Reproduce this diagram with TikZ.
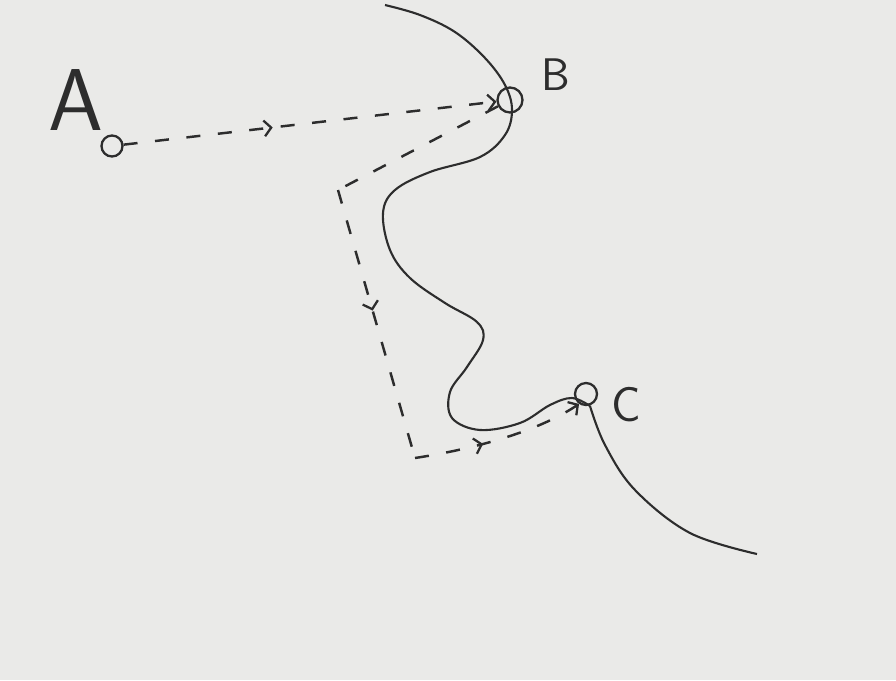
\documentclass[tikz,border=0pt]{standalone}
\usetikzlibrary{arrows.meta,decorations.markings}
\definecolor{board}{RGB}{234,234,232}
\definecolor{ink}{RGB}{45,45,45}
\begin{document}
\begin{tikzpicture}[x=0.02cm, y=-0.02cm,
  pt/.style={circle, draw=ink, line width=1.3pt, inner sep=0pt, minimum size=4.4mm},
  lbl/.style={text=ink, font=\sffamily, inner sep=0pt},
  dsh/.style={draw=ink, line width=1.4pt, dash pattern=on 8pt off 10pt},
  tip/.style={-{Straight Barb[length=4pt,width=9pt,line width=1.3pt]}},
  midar/.style={postaction={decorate}, decoration={markings,
    mark=at position #1 with {\arrow[ink]{Straight Barb[length=4pt,width=9pt,line width=1.3pt]}}}},
  wire/.style={draw=ink, line width=1.2pt}]
\fill[board] (0,0) rectangle (896,680);
\draw[wire] plot[smooth, tension=0.6] coordinates {(385,5) (420,15) (455,32) (485,58) (505,85) (512,110)
  (505,135) (480,157) (430,172) (395,190) (383,213) (390,250) (410,278) (445,303) (477,322) (483,340)
  (467,367) (450,392) (452,418) (480,430) (520,423) (550,405) (572,398) (590,406)};
\draw[wire] plot[smooth, tension=0.6] coordinates {(590,406) (605,445) (635,490) (690,533) (757,554)};
\node[pt, minimum size=4.2mm] (a) at (112,146) {};
\node[pt, minimum size=5mm] (b) at (510,100) {};
\node[pt] (c) at (586,394) {};
\node[lbl, font=\sffamily\fontsize{50}{50}\selectfont] (la) at (76,100) {A};
\node[lbl, font=\sffamily\fontsize{26}{26}\selectfont] (lb) at (556,75) {B};
\node[lbl, font=\sffamily\fontsize{28}{28}\selectfont] (lc) at (626,405) {C};
\coordinate (k1) at (338,190);
\coordinate (k2) at (415,458);
\draw[dsh, tip, midar=0.4] (a) -- (b);
\draw[dsh] (b) -- (k1);
\draw[dsh, midar=0.45] (k1) -- (k2);
\draw[dsh, tip, midar=0.4] (k2) .. controls (480,448) and (540,430) .. (c.235);
\end{tikzpicture}
\end{document}
